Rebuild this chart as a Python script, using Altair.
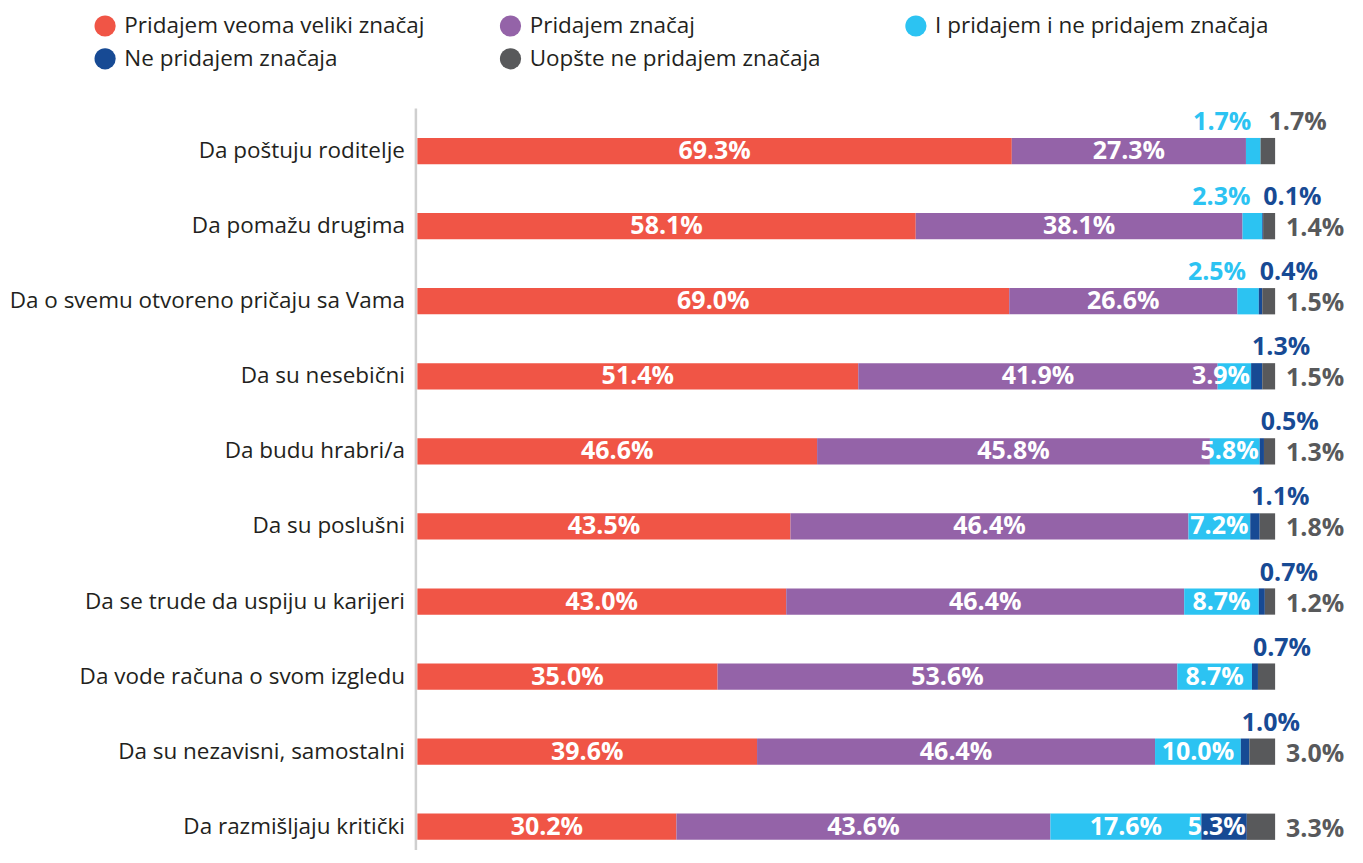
import altair as alt
import pandas as pd

categories = [
    "Da poštuju roditelje",
    "Da pomažu drugima",
    "Da o svemu otvoreno pričaju sa Vama",
    "Da su nesebični",
    "Da budu hrabri/a",
    "Da su poslušni",
    "Da se trude da uspiju u karijeri",
    "Da vode računa o svom izgledu",
    "Da su nezavisni, samostalni",
    "Da razmišljaju kritički",
]
series = [
    "Pridajem veoma veliki značaj",
    "Pridajem značaj",
    "I pridajem i ne pridajem značaja",
    "Ne pridajem značaja",
    "Uopšte ne pridajem značaja",
]
colors = ["#f05546", "#9463a8", "#2cc3f2", "#174a94", "#58595b"]

veoma = [69.3, 58.1, 69.0, 51.4, 46.6, 43.5, 43.0, 35.0, 39.6, 30.2]
pridajem = [27.3, 38.1, 26.6, 41.9, 45.8, 46.4, 46.4, 53.6, 46.4, 43.6]
i_i = [1.7, 2.3, 2.5, 3.9, 5.8, 7.2, 8.7, 8.7, 10.0, 17.6]
ne = [0.0, 0.1, 0.4, 1.3, 0.5, 1.1, 0.7, 0.7, 1.0, 5.3]
uopste = [1.7, 1.4, 1.5, 1.5, 1.3, 1.8, 1.2, None, 3.0, 3.3]

all_vals = [veoma, pridajem, i_i, ne, uopste]

rows = []
for i, cat in enumerate(categories):
    cum = 0.0
    known = sum(v[i] for v in all_vals if v[i] is not None)
    for j, s in enumerate(series):
        v = all_vals[j][i]
        shown = v is not None
        if v is None:
            v = round(100 - known, 1)
        start = cum
        end = cum + v
        cum = end
        label = f"{v:.1f}%" if shown and v > 0 else ""
        if label == "":
            place = "none"
        elif j == 4:
            place = "above_grey" if ne[i] == 0 else "right"
        elif v >= 7:
            place = "center"
        elif v >= 3.5:
            place = "inend"
        elif j == 2:
            place = "above_right"
        else:
            place = "above_left"
        rows.append(dict(cat=cat, series=s, start=start, end=end,
                         mid=(start + end) / 2, label=label, place=place))
df = pd.DataFrame(rows)

W, H = 859, 718
FONT = "Open Sans"
TXT = "#231f20"

xscale = alt.Scale(domain=[0, 100], nice=False, zero=True)
y = alt.Y("cat:N", sort=categories, title=None,
          scale=alt.Scale(paddingInner=0.65, paddingOuter=0.1),
          axis=alt.Axis(labelFontSize=22.5, labelFont=FONT, labelColor=TXT,
                        labelPadding=13, labelLimit=440, ticks=False,
                        domain=False, grid=False))

base = alt.Chart(df).encode(y=y)

bars = base.mark_bar().encode(
    x=alt.X("start:Q", scale=xscale, axis=None),
    x2="end:Q",
    color=alt.Color("series:N", scale=alt.Scale(domain=series, range=colors),
                    legend=alt.Legend(title=None, orient="none", legendX=-324,
                                      legendY=-116, columns=3,
                                      symbolType="circle", symbolSize=450,
                                      symbolStrokeWidth=0, labelFontSize=22.5,
                                      labelFont=FONT, labelColor=TXT,
                                      labelOffset=8, columnPadding=41,
                                      rowPadding=10, gridAlign="all",
                                      labelLimit=440, direction="horizontal")),
)


def txt(place, field, align, color, dx=0, dy=0):
    return base.transform_filter(alt.datum.place == place).mark_text(
        align=align, baseline="middle", font=FONT, fontWeight="bold",
        fontSize=25, color=color, dx=dx, dy=dy,
    ).encode(x=alt.X(f"{field}:Q", scale=xscale, axis=None), text="label:N")


t_center = txt("center", "mid", "center", "white")
t_inend = txt("inend", "end", "right", "white", dx=-1)
t_above_right = txt("above_right", "mid", "right", colors[2], dx=-2, dy=-29)
t_above_left = txt("above_left", "start", "left", colors[3], dx=1, dy=-29)
t_right = txt("right", "end", "left", colors[4], dx=11, dy=2)
t_above_grey = txt("above_grey", "start", "left", colors[4], dx=8, dy=-29)

axis_line = alt.Chart(alt.Data(values=[{}])).mark_rule(
    color="#cfcfcf", strokeWidth=2.5
).encode(x=alt.value(-1.5), y=alt.value(-22), y2=alt.value(H + 10))

chart = alt.layer(
    axis_line, bars, t_center, t_inend, t_above_right, t_above_left,
    t_right, t_above_grey
).properties(
    width=W, height=H,
    autosize=alt.AutoSizeParams(type="none"),
    padding={"left": 410, "top": 122, "right": 80, "bottom": 2},
).configure_view(stroke=None)

chart.save("out.html", embed_options={"renderer": "svg", "actions": False})
